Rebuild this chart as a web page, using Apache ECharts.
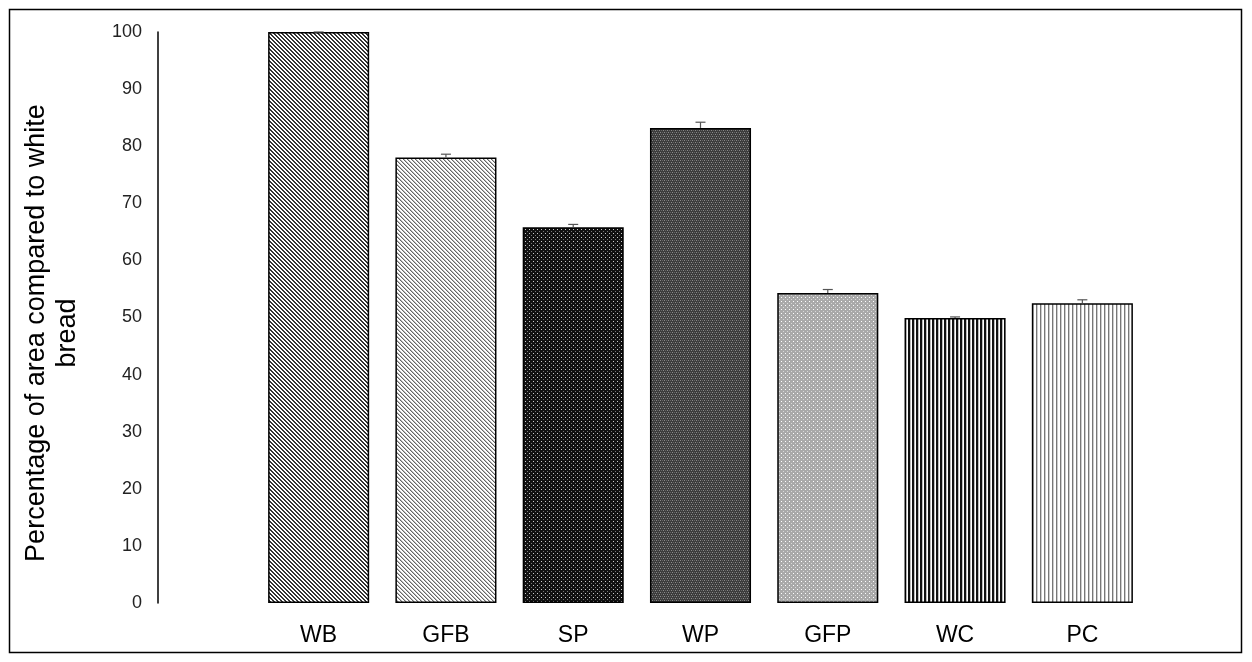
<!DOCTYPE html>
<html>
<head>
<meta charset="utf-8"/>
<title>Percentage of area compared to white bread</title>
<script src="https://cdn.jsdelivr.net/npm/echarts@6/dist/echarts.min.js"></script>
<style>
    html, body { margin: 0; padding: 0; background: #fff; }
    #main { width: 1252px; height: 662px; }
</style>
</head>
<body>
<div id="main"></div>
<script>
    // data
    var categories = ['WB', 'GFB', 'SP', 'WP', 'GFP', 'WC', 'PC'];
    var values = [100, 78.0, 65.8, 83.2, 54.3, 49.9, 52.5];
    var errors = [0, 0.6, 0.5, 1.0, 0.6, 0.2, 0.6];
    var yTicks = [0, 10, 20, 30, 40, 50, 60, 70, 80, 90, 100];

    // small tiles for the fill patterns
    function tile(w, h, bg, pixels) {
        var c = document.createElement('canvas');
        c.width = w; c.height = h;
        var ctx = c.getContext('2d');
        ctx.fillStyle = bg;
        ctx.fillRect(0, 0, w, h);
        pixels.forEach(function (p) {
            ctx.fillStyle = p[2];
            ctx.fillRect(p[0], p[1], p[3] || 1, p[4] || 1);
        });
        return { image: c, repeat: 'repeat' };
    }

    var patterns = [
        // WB dark diagonal
        tile(4, 4, '#fff', [[0,0,'#333',2,1],[1,1,'#333',2,1],[2,2,'#333',2,1],[3,3,'#333',1,1],[0,3,'#333',1,1]]),
        // GFB light diagonal
        tile(4, 4, '#fff', [[0,0,'#666'],[1,1,'#666'],[2,2,'#666'],[3,3,'#666'],[1,0,'#bbb'],[2,1,'#bbb'],[3,2,'#bbb'],[0,3,'#bbb']]),
        // SP black with light dots
        tile(4, 4, '#111', [[1,1,'#ccc'],[3,3,'#777']]),
        // WP dark gray checks
        tile(4, 4, '#3c3c3c', [[0,0,'#8a8a8a'],[2,0,'#666'],[1,2,'#666'],[3,2,'#8a8a8a']]),
        // GFP light gray with white dots
        tile(4, 4, '#a9a9a9', [[1,1,'#fff'],[3,3,'#d8d8d8']]),
        // WC dark vertical
        tile(4, 1, '#fff', [[0,0,'#111',2,1],[2,0,'#bbb',1,1]]),
        // PC light vertical
        tile(4, 1, '#fff', [[0,0,'#777',1,1],[1,0,'#ccc',1,1]])
    ];

    var barData = values.map(function (v, i) {
        return { value: v, itemStyle: { color: patterns[i] } };
    });
    var errData = values.map(function (v, i) {
        return [i, v, v + errors[i]];
    });

    var myChart = echarts.init(document.getElementById('main'));
    var option = {
        animation: false,
        grid: { left: 255, right: 106, top: 32, bottom: 59 },
        xAxis: {
            type: 'category',
            data: categories,
            axisLine: { show: false },
            axisTick: { show: false },
            axisLabel: { color: '#000', fontSize: 23, fontFamily: 'Liberation Sans', margin: 21 }
        },
        yAxis: {
            type: 'value',
            min: yTicks[0],
            max: yTicks[yTicks.length - 1],
            interval: 10,
            offset: 97,
            splitLine: { show: false },
            axisTick: { show: false },
            axisLine: { show: true, lineStyle: { color: '#000', width: 1.5 } },
            axisLabel: { color: '#222', fontSize: 18, fontFamily: 'Liberation Sans', margin: 16 }
        },
        graphic: [
            {
                type: 'rect',
                shape: { x: 9.5, y: 9.5, width: 1232, height: 643 },
                style: { fill: 'none', stroke: '#000', lineWidth: 1.5 }
            },
            {
                type: 'text',
                x: 52, y: 333,
                rotation: Math.PI / 2,
                style: {
                    text: 'Percentage of area compared to white\nbread',
                    fontSize: 27,
                    fontFamily: 'Liberation Sans',
                    fill: '#000',
                    align: 'center',
                    verticalAlign: 'middle',
                    lineHeight: 31
                }
            }
        ],
        series: [
            {
                type: 'bar',
                data: barData,
                barCategoryGap: '20.6%',
                itemStyle: { borderColor: '#000', borderWidth: 1.5 }
            },
            {
                type: 'custom',
                data: errData,
                z: 5,
                renderItem: function (params, api) {
                    var lo = api.coord([api.value(0), api.value(1)]);
                    var hi = api.coord([api.value(0), api.value(2)]);
                    var cap = 5;
                    return {
                        type: 'group',
                        children: [
                            { type: 'line', shape: { x1: lo[0], y1: lo[1], x2: hi[0], y2: hi[1] }, style: { stroke: '#555', lineWidth: 1.2 } },
                            { type: 'line', shape: { x1: hi[0] - cap, y1: hi[1], x2: hi[0] + cap, y2: hi[1] }, style: { stroke: '#555', lineWidth: 1.2 } }
                        ]
                    };
                }
            }
        ]
    };
    myChart.setOption(option);
</script>
</body>
</html>
